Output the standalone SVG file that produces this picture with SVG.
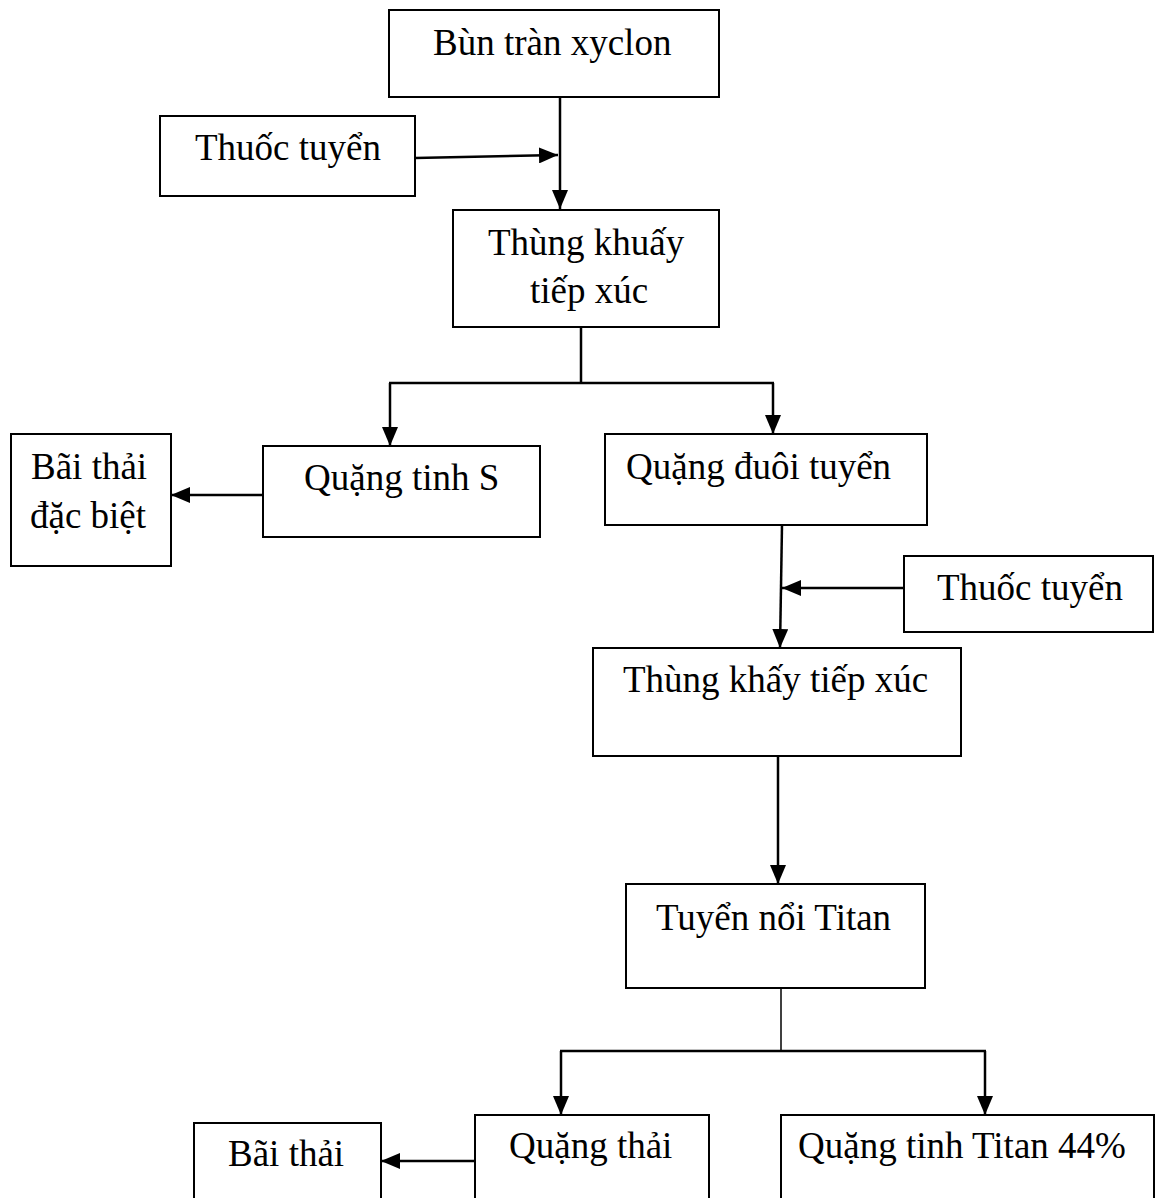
<svg xmlns="http://www.w3.org/2000/svg" width="1155" height="1198" viewBox="0 0 1155 1198">
  <style>
    .box { fill: #ffffff; stroke: #000000; stroke-width: 2; }
    .lbl { font-family: "Liberation Serif", "Times New Roman", serif; font-size: 37px; fill: #000000; }
    .wire { fill: none; stroke: #000000; stroke-width: 2.5; }
    .thin { fill: none; stroke: #000000; stroke-width: 1.5; }
  </style>
  <defs>
    <marker id="arrow" markerUnits="userSpaceOnUse" markerWidth="19" markerHeight="16" viewBox="0 0 19 16" refX="19" refY="8" orient="auto">
      <path d="M0 0 L19 8 L0 16 Z" fill="#000000"/>
    </marker>
  </defs>
  <rect width="1155" height="1198" fill="#ffffff"/>

  <g id="connectors">
    <!-- feed line into first mixing tank -->
    <path class="wire" d="M560 96 V209" marker-end="url(#arrow)"/>
    <path class="wire" d="M415 158 L558 155" marker-end="url(#arrow)"/>
    <!-- split after first tank -->
    <path class="wire" d="M581 327 V383"/>
    <path class="wire" d="M389 383 H774"/>
    <path class="wire" d="M390 383 V446" marker-end="url(#arrow)"/>
    <path class="wire" d="M773 383 V434" marker-end="url(#arrow)"/>
    <path class="wire" d="M263 495 H171" marker-end="url(#arrow)"/>
    <!-- tailings to second tank -->
    <path class="wire" d="M782 525 L780 648" marker-end="url(#arrow)"/>
    <path class="wire" d="M904 588 H782" marker-end="url(#arrow)"/>
    <path class="wire" d="M778 756 V884" marker-end="url(#arrow)"/>
    <!-- split after titanium flotation -->
    <path class="thin" d="M781 988 V1051"/>
    <path class="wire" d="M560 1051 H986"/>
    <path class="wire" d="M561 1051 V1115" marker-end="url(#arrow)"/>
    <path class="wire" d="M985 1051 V1115" marker-end="url(#arrow)"/>
    <path class="wire" d="M475 1161 H381" marker-end="url(#arrow)"/>
  </g>

  <g id="bun-tran-xyclon">
    <rect class="box" x="389" y="10" width="330" height="87"/>
    <text class="lbl" x="433" y="55">Bùn tràn xyclon</text>
  </g>
  <g id="thuoc-tuyen-1">
    <rect class="box" x="160" y="116" width="255" height="80"/>
    <text class="lbl" x="195" y="160">Thuốc tuyển</text>
  </g>
  <g id="thung-khuay-1">
    <rect class="box" x="453" y="210" width="266" height="117"/>
    <text class="lbl" x="488" y="255">Thùng khuấy</text>
    <text class="lbl" x="530" y="303">tiếp xúc</text>
  </g>
  <g id="bai-thai-dac-biet">
    <rect class="box" x="11" y="434" width="160" height="132"/>
    <text class="lbl" x="31" y="479">Bãi thải</text>
    <text class="lbl" x="30" y="528">đặc biệt</text>
  </g>
  <g id="quang-tinh-s">
    <rect class="box" x="263" y="446" width="277" height="91"/>
    <text class="lbl" x="304" y="490">Quặng tinh S</text>
  </g>
  <g id="quang-duoi-tuyen">
    <rect class="box" x="605" y="434" width="322" height="91"/>
    <text class="lbl" x="626" y="479">Quặng đuôi tuyển</text>
  </g>
  <g id="thuoc-tuyen-2">
    <rect class="box" x="904" y="556" width="249" height="76"/>
    <text class="lbl" x="937" y="600">Thuốc tuyển</text>
  </g>
  <g id="thung-khay-2">
    <rect class="box" x="593" y="648" width="368" height="108"/>
    <text class="lbl" x="623" y="692">Thùng khấy tiếp xúc</text>
  </g>
  <g id="tuyen-noi-titan">
    <rect class="box" x="626" y="884" width="299" height="104"/>
    <text class="lbl" x="656" y="930">Tuyển nổi Titan</text>
  </g>
  <g id="bai-thai">
    <rect class="box" x="194" y="1123" width="187" height="90"/>
    <text class="lbl" x="228" y="1166">Bãi thải</text>
  </g>
  <g id="quang-thai">
    <rect class="box" x="475" y="1115" width="234" height="100"/>
    <text class="lbl" x="509" y="1158">Quặng thải</text>
  </g>
  <g id="quang-tinh-titan">
    <rect class="box" x="781" y="1115" width="373" height="100"/>
    <text class="lbl" x="798" y="1158">Quặng tinh Titan 44%</text>
  </g>
</svg>
